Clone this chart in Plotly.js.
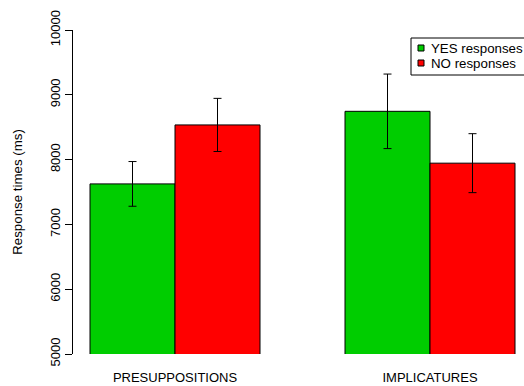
<!DOCTYPE html>
<html>
<head>
<meta charset="utf-8">
<script src="https://cdn.plot.ly/plotly-3.0.1.min.js"></script>
<style>html,body{margin:0;padding:0;background:#fff;}#chart{width:524px;height:386px;}</style>
</head>
<body>
<div id="chart"></div>
<script>
// Data
var categories = ["PRESUPPOSITIONS", "IMPLICATURES"];
var seriesNames = ["YES responses", "NO responses"];
var yesMeans = [7625, 8745];
var yesErrors = [345, 575];
var noMeans = [8535, 7945];
var noErrors = [410, 455];
var yTicks = [5000, 6000, 7000, 8000, 9000, 10000];

// R barplot-style positions: groups of two bars, width 1, one-bar gap before each group
var groupCenters = categories.map(function (c, i) { return 2 + 3 * i; });
var yesX = groupCenters.map(function (c) { return c - 0.5; });
var noX = groupCenters.map(function (c) { return c + 0.5; });

var FONT = "Liberation Sans, Arial, Helvetica, sans-serif";
var GREEN = "#00CD00", RED = "#FF0000";

var traces = [
  {
    type: "bar", name: seriesNames[0], x: yesX, y: yesMeans, width: 1,
    marker: {color: GREEN, line: {color: "#000", width: 1}},
    error_y: {type: "data", array: yesErrors, visible: true, color: "#000", thickness: 1, width: 4},
    showlegend: false, hoverinfo: "y"
  },
  {
    type: "bar", name: seriesNames[1], x: noX, y: noMeans, width: 1,
    marker: {color: RED, line: {color: "#000", width: 1}},
    error_y: {type: "data", array: noErrors, visible: true, color: "#000", thickness: 1, width: 4},
    showlegend: false, hoverinfo: "y"
  }
];

// Custom R-style legend (box, small squares, labels) in pixel-like paper coords
var W = 524, H = 386, ML = 73, MR = 0, MT = 30, MB = 32;
var PW = W - ML - MR, PH = H - MT - MB;
function px(x) { return (x - ML) / PW; }
function py(y) { return (H - MB - y) / PH; }

var legendColors = [GREEN, RED];
var legendRowY = [48, 63];
var shapes = [
  {type: "rect", xref: "paper", yref: "paper", x0: px(411), x1: px(540), y0: py(75), y1: py(38),
   line: {color: "#000", width: 1}, fillcolor: "#fff", layer: "above"}
];
var annotations = [];
seriesNames.forEach(function (n, i) {
  shapes.push({type: "rect", xref: "paper", yref: "paper",
    x0: px(418), x1: px(424), y0: py(legendRowY[i] + 3), y1: py(legendRowY[i] - 3),
    fillcolor: legendColors[i], line: {color: "#000", width: 1}, layer: "above"});
  annotations.push({xref: "paper", yref: "paper", x: px(429), y: py(legendRowY[i]),
    xanchor: "left", yanchor: "middle", text: n, showarrow: false,
    font: {family: FONT, size: 13.3, color: "#000"}});
});

var layout = {
  width: W, height: H,
  margin: {l: ML, r: MR, t: MT, b: MB, pad: 0},
  paper_bgcolor: "#fff", plot_bgcolor: "#fff",
  font: {family: FONT, size: 13, color: "#000"},
  bargap: 0,
  xaxis: {
    range: [0.8, 0.8 + PW / 85], showline: false, showgrid: false, zeroline: false,
    tickvals: groupCenters, ticktext: categories, ticks: "", ticklabelstandoff: 14,
    tickfont: {family: FONT, size: 13, color: "#000"}, fixedrange: true
  },
  yaxis: {
    range: [5000, 10000], showline: true, linecolor: "#000", linewidth: 1,
    showgrid: false, zeroline: false, ticks: "outside", ticklen: 7, tickwidth: 1, tickcolor: "#000",
    tickvals: yTicks, ticktext: yTicks.map(String), tickangle: -90,
    tickfont: {family: FONT, size: 13, color: "#000"},
    title: {text: "Response times (ms)", font: {family: FONT, size: 13.3, color: "#000"}, standoff: 22},
    fixedrange: true
  },
  shapes: shapes,
  annotations: annotations,
  showlegend: false
};

Plotly.newPlot("chart", traces, layout, {displayModeBar: false, staticPlot: true});
</script>
</body>
</html>
